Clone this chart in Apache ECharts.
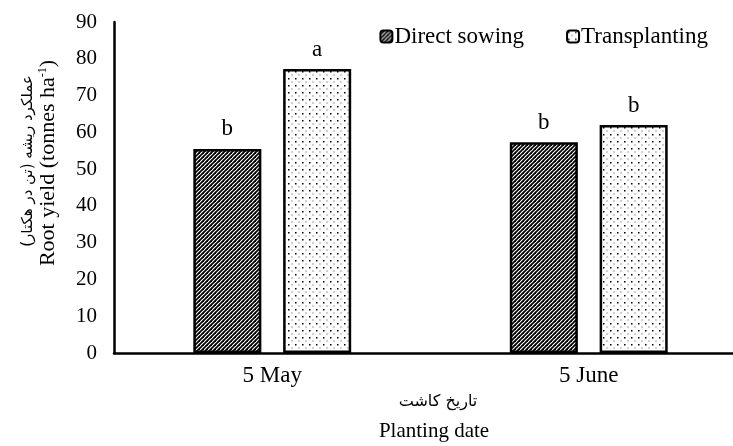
<!DOCTYPE html>
<html><head><meta charset="utf-8">
<script src="https://cdn.jsdelivr.net/npm/echarts@6/dist/echarts.min.js"></script>
<style>html,body{margin:0;padding:0;background:#fff}#c{width:733px;height:446px}</style>
</head><body><div id="c"></div>
<script>
const categories = ['5 May', '5 June'];
const directSowing = [55.5, 57.3];
const transplanting = [77.2, 62.0];
const directLetters = ['b', 'b'];
const transLetters = ['a', 'b'];
const yTicks = [0, 10, 20, 30, 40, 50, 60, 70, 80, 90];

function hatch() {
  const c = document.createElement('canvas'); c.width = 4; c.height = 4;
  const g = c.getContext('2d');
  g.fillStyle = '#fff'; g.fillRect(0, 0, 4, 4);
  g.strokeStyle = '#000'; g.lineWidth = 1.8;
  for (const o of [-4, 0, 4]) { g.beginPath(); g.moveTo(o - 1, 5); g.lineTo(o + 5, -1); g.stroke(); }
  return c;
}
function dots() {
  const c = document.createElement('canvas'); c.width = 7; c.height = 7;
  const g = c.getContext('2d');
  g.fillStyle = '#fff'; g.fillRect(0, 0, 7, 7);
  g.fillStyle = '#000';
  g.fillRect(1, 1, 1.5, 1.5);
  g.fillStyle = '#444';
  g.fillRect(4.5, 4.5, 1, 1);
  return c;
}
const serif = '"Liberation Serif", "Times New Roman", serif';
const chart = echarts.init(document.getElementById('c'), null, {renderer: 'canvas'});
const lbl = (letters) => ({
  show: true, position: 'top', distance: 8, color: '#000', fontFamily: serif, fontSize: 23,
  formatter: p => letters[p.dataIndex]
});
chart.setOption({
  animation: false,
  textStyle: {fontFamily: serif},
  grid: {left: 114, top: 22, bottom: 93, width: 633, containLabel: false, outerBoundsMode: 'none'},
  legend: {
    right: 20, top: 20, itemWidth: 12, itemHeight: 12, itemGap: 42,
    textStyle: {fontFamily: serif, fontSize: 23, color: '#000', padding: [0, 0, 0, -3]},
    data: ['Direct sowing', 'Transplanting']
  },
  xAxis: {
    type: 'category', data: categories,
    axisLine: {lineStyle: {color: '#000', width: 2.5}},
    axisTick: {show: false},
    axisLabel: {color: '#000', fontFamily: serif, fontSize: 23, margin: 11}
  },
  yAxis: {
    type: 'value', min: 0, max: 90, interval: 10,
    axisLine: {show: true, lineStyle: {color: '#000', width: 2.5}},
    axisTick: {show: false}, splitLine: {show: false},
    axisLabel: {color: '#000', fontFamily: serif, fontSize: 21, margin: 17,
      formatter: v => yTicks.includes(v) ? String(v) : ''}
  },
  series: [
    {name: 'Direct sowing', type: 'bar', data: directSowing, barWidth: '21.5%', barGap: '32%',
     itemStyle: {color: {image: hatch(), repeat: 'repeat'}, borderColor: '#000', borderWidth: 2.5},
     label: lbl(directLetters)},
    {name: 'Transplanting', type: 'bar', data: transplanting, barWidth: '21.5%', barGap: '32%',
     itemStyle: {color: {image: dots(), repeat: 'repeat'}, borderColor: '#000', borderWidth: 2.5},
     label: lbl(transLetters)}
  ],
  graphic: [
    {type: 'text', x: 48, y: 163, rotation: Math.PI / 2, style: {
      text: '{n|Root yield (tonnes ha}{s|-1}{n|)}', align: 'center', verticalAlign: 'middle',
      rich: {n: {fontFamily: serif, fontSize: 22, color: '#000'},
             s: {fontFamily: serif, fontSize: 12, color: '#000', verticalAlign: 'top', padding: [0, 0, 9, 0]}}}},
    {type: 'text', x: 28, y: 161, rotation: Math.PI / 2, style: {
      text: 'عملکرد ریشه (تن در هکتار)', align: 'center', verticalAlign: 'middle',
      font: '15px "DejaVu Sans", sans-serif', fill: '#000'}},
    {type: 'text', x: 438, y: 402, style: {
      text: 'تاریخ کاشت', align: 'center', verticalAlign: 'middle',
      font: '16px "DejaVu Sans", sans-serif', fill: '#000'}},
    {type: 'text', x: 434, y: 431, style: {
      text: 'Planting date', align: 'center', verticalAlign: 'middle',
      font: '21px "Liberation Serif", serif', fill: '#000'}}
  ]
});
</script></body></html>
